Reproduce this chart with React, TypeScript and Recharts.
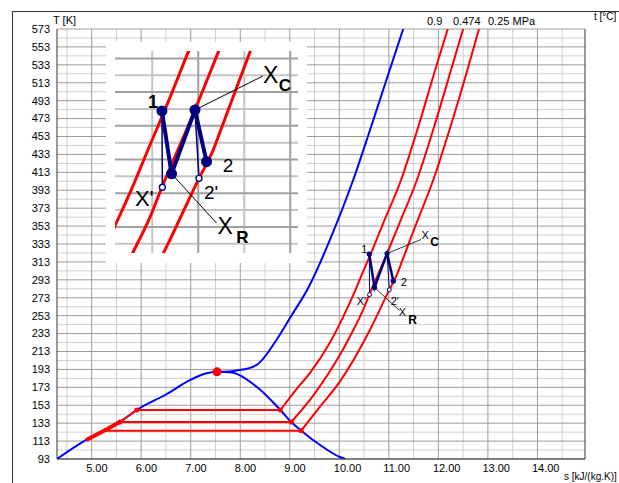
import React from 'react';
import { ComposedChart, Line, Scatter, XAxis, YAxis, CartesianGrid } from 'recharts';

const FONT = '"Liberation Sans", Arial, Helvetica, sans-serif';

// axis ticks
const sTicks = [5, 6, 7, 8, 9, 10, 11, 12, 13, 14];
const sHalfTicks = [4.5, 5.5, 6.5, 7.5, 8.5, 9.5, 10.5, 11.5, 12.5, 13.5, 14.5];
const tTicks = [93, 113, 133, 153, 173, 193, 213, 233, 253, 273, 293, 313, 333, 353, 373, 393, 413, 433, 453, 473, 493, 513, 533, 553, 573];
const tHalfTicks = [103, 123, 143, 163, 183, 203, 223, 243, 263, 283, 303, 323, 343, 363, 383, 403, 423, 443, 463, 483, 503, 523, 543, 563];
const cTicks = [-180, -160, -140, -120, -100, -80, -60, -40, -20, 0, 20, 40, 60, 80, 100, 120, 140, 160, 180, 200, 220, 240, 260, 280, 300];

// zoomed view grid
const insetSMajor = [11, 12];
const insetSMinor = [10.5, 11.5];
const insetTMajor = [253, 273, 293, 313, 333, 353];
const insetTMinor = [243, 263, 283, 303, 323, 343];

// saturation dome (liquid + vapour line), s [kJ/(kg.K)], T [K]
const satDome = [
  { s: 4.3, T: 93 }, { s: 4.89, T: 114.3 }, { s: 5.25, T: 124.6 }, { s: 5.57, T: 134.3 },
  { s: 5.91, T: 147.7 }, { s: 6.5, T: 165 }, { s: 7.0, T: 181.5 }, { s: 7.3, T: 188.5 },
  { s: 7.53, T: 190.3 }, { s: 7.79, T: 189.8 }, { s: 8.33, T: 173.7 }, { s: 8.81, T: 147.7 },
  { s: 9.03, T: 134.3 }, { s: 9.23, T: 124.6 }, { s: 9.67, T: 106.4 }, { s: 10.01, T: 95.2 },
  { s: 10.12, T: 93 },
];

// critical isobar
const criticalIsobar = [
  { s: 7.53, T: 190.3 }, { s: 7.79, T: 190.6 }, { s: 7.99, T: 192.3 }, { s: 8.33, T: 198 },
  { s: 8.73, T: 225.8 }, { s: 9.0, T: 250 }, { s: 9.4, T: 287 }, { s: 9.81, T: 337.5 },
  { s: 10.28, T: 404.4 }, { s: 10.62, T: 460.3 }, { s: 10.95, T: 516 }, { s: 11.29, T: 573 },
];

// isobars 0.9 / 0.474 / 0.25 MPa: liquid + two-phase part, then superheated vapour
const isobar09Wet = [
  { s: 4.89, T: 114.3 }, { s: 5.25, T: 124.6 }, { s: 5.57, T: 134.3 }, { s: 5.91, T: 147.7 },
  { s: 8.81, T: 147.7 },
];
const isobar09Vap = [
  { s: 8.81, T: 147.7 }, { s: 9.12, T: 170 }, { s: 9.42, T: 190 }, { s: 9.8, T: 222 },
  { s: 10.08, T: 252 }, { s: 10.28, T: 276 }, { s: 10.475, T: 301.6 }, { s: 10.66, T: 325.4 },
  { s: 10.89, T: 356.7 }, { s: 11.25, T: 405 }, { s: 11.6, T: 465 }, { s: 11.95, T: 530 },
  { s: 12.19, T: 573 },
];
const isobar0474Wet = [
  { s: 4.89, T: 114.3 }, { s: 5.25, T: 124.6 }, { s: 5.57, T: 134.3 }, { s: 9.03, T: 134.3 },
];
const isobar0474Vap = [
  { s: 9.03, T: 134.3 }, { s: 9.48, T: 164.4 }, { s: 10.01, T: 209 }, { s: 10.29, T: 237.9 },
  { s: 10.47, T: 258.1 }, { s: 10.606, T: 276.6 }, { s: 10.964, T: 322.4 }, { s: 11.217, T: 356.7 },
  { s: 11.57, T: 405 }, { s: 11.92, T: 465 }, { s: 12.27, T: 530 }, { s: 12.5, T: 573 },
];
const isobar025Wet = [{ s: 4.89, T: 114.3 }, { s: 5.25, T: 124.6 }, { s: 9.23, T: 124.6 }];
const isobar025Vap = [
  { s: 9.23, T: 124.6 }, { s: 9.61, T: 151.4 }, { s: 10.01, T: 179.3 }, { s: 10.62, T: 237.3 },
  { s: 11.008, T: 281.8 }, { s: 11.163, T: 298.7 }, { s: 11.265, T: 313.5 }, { s: 11.562, T: 356.8 },
  { s: 11.9, T: 405 }, { s: 12.25, T: 465 }, { s: 12.6, T: 530 }, { s: 12.82, T: 573 },
];
const compressedLiquid = [{ s: 4.89, T: 114.3 }, { s: 5.25, T: 124.6 }, { s: 5.57, T: 134.3 }];

const satPoints = [
  { s: 5.91, T: 147.7 }, { s: 8.81, T: 147.7 }, { s: 5.57, T: 134.3 },
  { s: 9.03, T: 134.3 }, { s: 9.23, T: 124.6 },
];
const criticalPoint = [{ s: 7.53, T: 190.3 }];

// process states: 1 -> XR -> XC -> 2, ideal ends X' and 2'
const stateIds = ['1', 'XR', 'XC', '2'];
const stateS = [10.605, 10.71, 10.964, 11.09];
const stateT = [321.8, 284.5, 322.4, 291.7];
const idealIds = ["X'", "2'"];
const idealS = [10.61, 11.008];
const idealT = [276.5, 281.8];

const states = stateIds.map((id, i) => ({ id, s: stateS[i], T: stateT[i] }));
const ideals = idealIds.map((id, i) => ({ id, s: idealS[i], T: idealT[i] }));
const expansionIdeal = [states[0], ideals[0]];
const compressionIdeal = [states[2], ideals[1]];

type Ann = { text: string; at: [number, number]; size: number; bold?: boolean; sub?: string; subAt?: [number, number]; subSize?: number; lead?: [number, number] };

const mainAnn: Record<string, Ann> = {
  '1': { text: '1', at: [-5, -5], size: 11 },
  XC: { text: 'X', at: [38, -18], size: 11, sub: 'C', subAt: [47.5, -11], subSize: 12, lead: [34, -14] },
  '2': { text: '2', at: [10.5, 1], size: 11 },
  XR: { text: 'X', at: [28, 25], size: 11, sub: 'R', subAt: [38, 32.5], subSize: 12, lead: [25, 23] },
  "X'": { text: "X'", at: [-8, 6.5], size: 11 },
  "2'": { text: "2'", at: [5.5, 10.7], size: 11 },
};
const insetAnn: Record<string, Ann> = {
  '1': { text: '1', at: [-9, -9.3], size: 18, bold: true },
  XC: { text: 'X', at: [75.8, -35], size: 23, sub: 'C', subAt: [90, -24.2], subSize: 17, lead: [68, -34] },
  '2': { text: '2', at: [21.6, 4.3], size: 19 },
  XR: { text: 'X', at: [53.6, 51.8], size: 23, sub: 'R', subAt: [70.8, 63.5], subSize: 17, lead: [45, 49.3] },
  "X'": { text: "X'", at: [-18, 11.7], size: 22 },
  "2'": { text: "2'", at: [12, 14.2], size: 19 },
};

const NAVY = '#000080';

const marker = (ann: Record<string, Ann>, r: number, filled: boolean, leadWidth: number) => (p: any) => {
  const { cx, cy, payload } = p;
  const a = ann[payload.id];
  return (
    <g>
      {a && a.lead && (
        <line x1={cx} y1={cy} x2={cx + a.lead[0]} y2={cy + a.lead[1]} stroke="#000" strokeWidth={leadWidth} />
      )}
      <circle cx={cx} cy={cy} r={r} fill={filled ? NAVY : '#fff'} stroke={NAVY} strokeWidth={filled ? 0 : Math.max(1, r / 2.2)} />
      {a && (
        <text x={cx + a.at[0]} y={cy + a.at[1]} textAnchor="middle" dominantBaseline="central" fontSize={a.size}
          fontWeight={a.bold ? 'bold' : 'normal'} fill="#000" fontFamily={FONT}>
          {a.text}
        </text>
      )}
      {a && a.sub && a.subAt && (
        <text x={cx + a.subAt[0]} y={cy + a.subAt[1]} textAnchor="middle" dominantBaseline="central" fontSize={a.subSize}
          fontWeight="bold" fill="#000" fontFamily={FONT}>
          {a.sub}
        </text>
      )}
    </g>
  );
};

const STick = ({ x, y, payload }: any) => (
  <text x={x - 5.5} y={y} dy="0.71em" textAnchor="start" fontSize={11} fill="#000" fontFamily={FONT}>
    {Number(payload.value).toFixed(2)}
  </text>
);

function MainChart() {
  return (
    <ComposedChart width={619} height={483} margin={{ top: 29, right: 4, bottom: 4, left: 12 }}>
      <CartesianGrid xAxisId="s" yAxisId="T" stroke="#cfcfcf"
        horizontalValues={tHalfTicks} verticalValues={sHalfTicks} />
      <CartesianGrid xAxisId="s" yAxisId="T" stroke="#9c9c9c"
        horizontalValues={tTicks} verticalValues={sTicks} />
      <XAxis xAxisId="s" dataKey="s" type="number" domain={[4.3, 14.96]} ticks={sTicks} interval={0}
        allowDataOverflow height={20} tickSize={3} tickLine={false} stroke="#333" tick={<STick />} />
      <YAxis yAxisId="T" dataKey="T" type="number" domain={[93, 573]} ticks={tTicks} interval={0}
        allowDataOverflow width={45} tickSize={5} tickLine={false} stroke="#333"
        tick={{ fontSize: 11, fill: '#000', fontFamily: FONT }} />
      <YAxis yAxisId="C" orientation="right" type="number" domain={[-180, 300]} ticks={cTicks} interval={0}
        width={30} tickSize={5} tickLine={false} stroke="#333"
        tick={{ fontSize: 11, fill: '#000', fontFamily: FONT }} />

      <Line xAxisId="s" yAxisId="T" data={satDome} dataKey="T" type="monotone" stroke="#0000ff" strokeWidth={2} dot={false} isAnimationActive={false} />
      <Line xAxisId="s" yAxisId="T" data={criticalIsobar} dataKey="T" type="monotone" stroke="#0000ff" strokeWidth={2} dot={false} isAnimationActive={false} />

      {[isobar09Wet, isobar0474Wet, isobar025Wet].map((d, i) => (
        <Line key={`wet-${i}`} xAxisId="s" yAxisId="T" data={d} dataKey="T" type="linear" stroke="#ff0000" strokeWidth={2} dot={false} isAnimationActive={false} />
      ))}
      {[isobar09Vap, isobar0474Vap, isobar025Vap].map((d, i) => (
        <Line key={`vap-${i}`} xAxisId="s" yAxisId="T" data={d} dataKey="T" type="monotone" stroke="#ff0000" strokeWidth={2} dot={false} isAnimationActive={false} />
      ))}
      <Line xAxisId="s" yAxisId="T" data={compressedLiquid} dataKey="T" type="linear" stroke="#ff0000" strokeWidth={4} dot={false} isAnimationActive={false} />

      <Line xAxisId="s" yAxisId="T" data={expansionIdeal} dataKey="T" type="linear" stroke={NAVY} strokeWidth={1} dot={false} isAnimationActive={false} />
      <Line xAxisId="s" yAxisId="T" data={compressionIdeal} dataKey="T" type="linear" stroke={NAVY} strokeWidth={1} dot={false} isAnimationActive={false} />
      <Line xAxisId="s" yAxisId="T" data={states} dataKey="T" type="linear" stroke={NAVY} strokeWidth={2.5} dot={false} isAnimationActive={false} />

      <Scatter xAxisId="s" yAxisId="T" data={satPoints} isAnimationActive={false}
        shape={(p: any) => <circle cx={p.cx} cy={p.cy} r={2.5} fill="#ff0000" />} />
      <Scatter xAxisId="s" yAxisId="T" data={criticalPoint} isAnimationActive={false}
        shape={(p: any) => <circle cx={p.cx} cy={p.cy} r={4.5} fill="#ff0000" />} />
      <Scatter xAxisId="s" yAxisId="T" data={ideals} isAnimationActive={false} shape={marker(mainAnn, 2, false, 0.8)} />
      <Scatter xAxisId="s" yAxisId="T" data={states} isAnimationActive={false} shape={marker(mainAnn, 2.6, true, 0.8)} />
    </ComposedChart>
  );
}

function ZoomChart() {
  return (
    <ComposedChart width={201} height={221} margin={{ top: 9, right: 9, bottom: 10, left: 9 }}>
      <CartesianGrid xAxisId="s" yAxisId="T" stroke="#c4c4c4" strokeWidth={2}
        horizontalValues={insetTMinor} verticalValues={insetSMinor} />
      <CartesianGrid xAxisId="s" yAxisId="T" stroke="#a0a0a0" strokeWidth={2}
        horizontalValues={insetTMajor} verticalValues={insetSMajor} />
      <XAxis xAxisId="s" dataKey="s" type="number" domain={[10.095, 12.084]} interval={0} allowDataOverflow hide />
      <YAxis yAxisId="T" dataKey="T" type="number" domain={[237.5, 357.4]} interval={0} allowDataOverflow hide />

      {[isobar09Vap, isobar0474Vap, isobar025Vap].map((d, i) => (
        <Line key={`zvap-${i}`} xAxisId="s" yAxisId="T" data={d} dataKey="T" type="monotone" stroke="#ff0000" strokeWidth={3} dot={false} isAnimationActive={false} />
      ))}

      <Line xAxisId="s" yAxisId="T" data={expansionIdeal} dataKey="T" type="linear" stroke={NAVY} strokeWidth={1.5} dot={false} isAnimationActive={false} />
      <Line xAxisId="s" yAxisId="T" data={compressionIdeal} dataKey="T" type="linear" stroke={NAVY} strokeWidth={1.5} dot={false} isAnimationActive={false} />
      <Line xAxisId="s" yAxisId="T" data={states} dataKey="T" type="linear" stroke={NAVY} strokeWidth={4} dot={false} isAnimationActive={false} />

      <Scatter xAxisId="s" yAxisId="T" data={ideals} isAnimationActive={false} shape={marker(insetAnn, 3, false, 1)} />
      <Scatter xAxisId="s" yAxisId="T" data={states} isAnimationActive={false} shape={marker(insetAnn, 5.5, true, 1)} />
    </ComposedChart>
  );
}

const textStyle = (left: number, top: number, size = 11): React.CSSProperties => ({
  position: 'absolute', left, top, fontSize: size, lineHeight: '12px', color: '#000', whiteSpace: 'nowrap',
});

export default function App() {
  return (
    <div style={{ position: 'absolute', left: 0, top: 0, width: 619, height: 483, overflow: 'hidden', background: '#fff', fontFamily: FONT }}>
      <div style={{ position: 'absolute', left: 12, top: 11, width: 700, height: 600, borderTop: '1px solid #333', borderLeft: '1px solid #333' }} />
      <div style={{ position: 'absolute', left: 0, top: 0 }}>
        <MainChart />
      </div>
      <div style={{ position: 'absolute', left: 106, top: 42, width: 201, height: 221, background: '#fff' }}>
        <ZoomChart />
      </div>
      <div style={textStyle(53, 13.5)}>T [K]</div>
      <div style={textStyle(594, 11, 10)}>t [°C]</div>
      <div style={textStyle(427, 15)}>0.9</div>
      <div style={textStyle(453, 15)}>0.474</div>
      <div style={textStyle(488, 15)}>0.25 MPa</div>
      <div style={textStyle(564, 471, 10)}>s [kJ/(kg.K)]</div>
    </div>
  );
}
